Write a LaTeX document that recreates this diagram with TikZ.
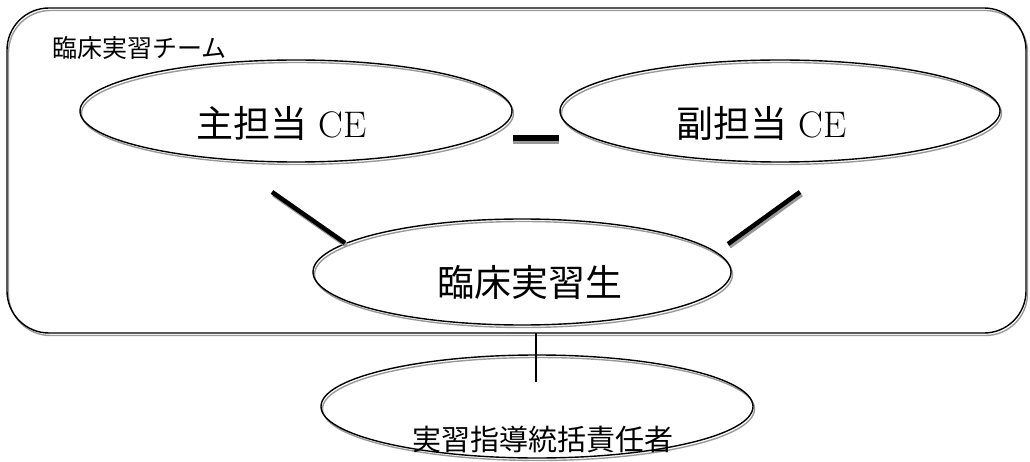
\documentclass[tikz,border=0pt]{standalone}
\usepackage{fontspec}
\newfontfamily\jp{Noto Sans CJK JP}
\usetikzlibrary{shapes.geometric}
\tikzset{
  shadowed/.style={preaction={draw=black!40, line width=1.4pt, transform canvas={shift={(1.5pt,-2.5pt)}}}},
  team/.style={draw=black, line width=1.4pt, rounded corners=42pt, shadowed, inner sep=0pt},
  oval/.style={ellipse, draw=black, line width=1.4pt, shadowed, inner sep=0pt},
  bigtext/.style={inner sep=0pt, font=\fontsize{37}{40}\selectfont},
  thicklink/.style={line width=4.5pt, preaction={draw=black!40, line width=4.5pt, transform canvas={shift={(1.5pt,-2.5pt)}}}},
  barlink/.style={line width=6pt, preaction={draw=black!40, line width=6pt, transform canvas={shift={(0pt,-3pt)}}}},
  thinlink/.style={line width=1.3pt}
}
\begin{document}
\begin{tikzpicture}[x=1pt,y=-1pt]
\useasboundingbox (0,0) rectangle (1030,462);
\node[team, minimum width=1019pt, minimum height=325pt] (team) at (516.5,170.5) {};
\node[anchor=west, inner sep=0pt, font=\jp\fontsize{25}{28}\selectfont] (teamlabel) at (52,48) {臨床実習チーム};
\node[oval, minimum width=432pt, minimum height=102pt] (e1) at (296,111) {};
\node[oval, minimum width=440pt, minimum height=102pt] (e2) at (780,111) {};
\node[oval, minimum width=418pt, minimum height=106pt] (e3) at (522,272) {};
\node[oval, minimum width=432pt, minimum height=103pt] (e4) at (537,406.5) {};
\node[bigtext] (t1) at (281.5,123.5) {{\jp 主担当} CE};
\node[bigtext] (t2) at (761.5,123.5) {{\jp 副担当} CE};
\node[bigtext] (t3) at (530,282) {\jp 臨床実習生};
\node[inner sep=0pt, font=\jp\fontsize{29}{32}\selectfont] (t4) at (543,440) {実習指導統括責任者};
\coordinate (l1a) at (272,192);
\coordinate (l1b) at (345,243);
\coordinate (l2a) at (800,192);
\coordinate (l2b) at (728,244);
\coordinate (vtop) at (536,333);
\coordinate (vbot) at (536,382);
\draw[barlink] ([yshift=-27pt]e1.east) -- ([yshift=-27pt]e2.west);
\draw[thicklink] (l1a) -- (l1b);
\draw[thicklink] (l2a) -- (l2b);
\draw[thinlink] (vtop) -- (vbot);
\end{tikzpicture}
\end{document}
